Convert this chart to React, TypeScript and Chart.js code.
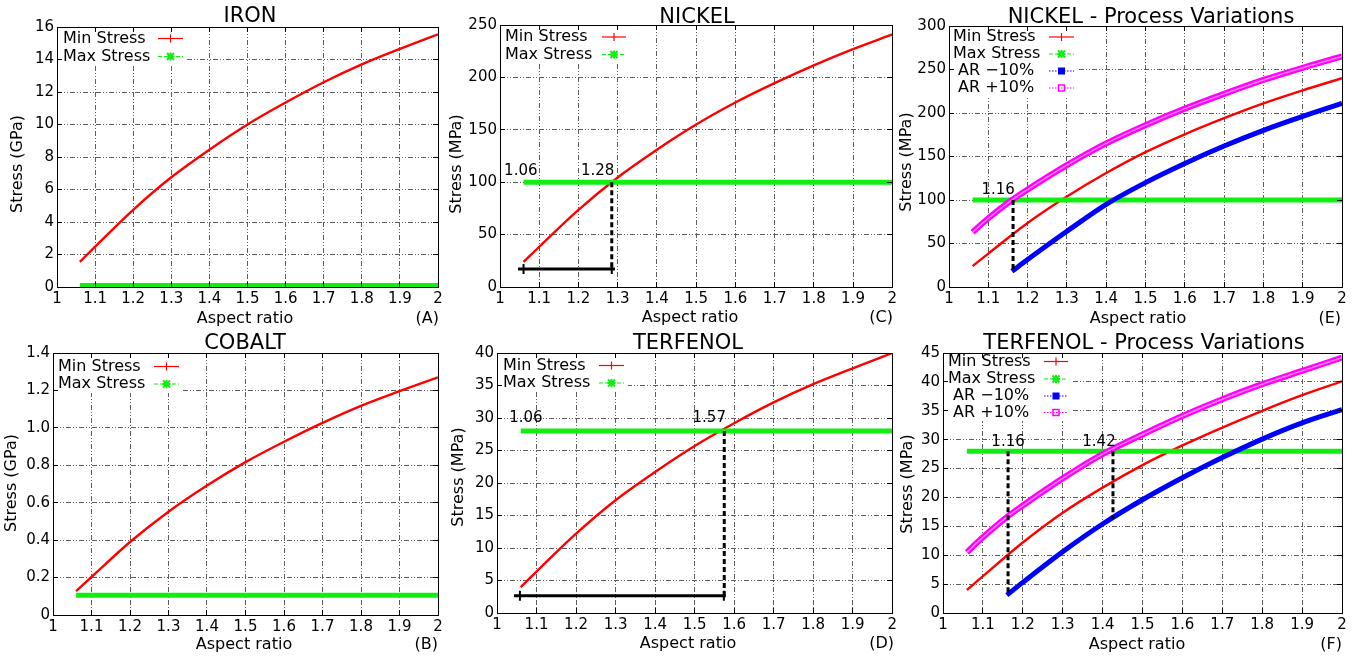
import React, { useEffect, useRef } from "react";
import { Chart, registerables } from "chart.js";

Chart.register(...registerables);
Chart.defaults.font.family = "'DejaVu Sans', sans-serif";
Chart.defaults.color = "#000";

// ---------- shared axis values ----------
const X_TICKS = [1, 1.1, 1.2, 1.3, 1.4, 1.5, 1.6, 1.7, 1.8, 1.9, 2];
const X_TICK_LABELS = ["1", "1.1", "1.2", "1.3", "1.4", "1.5", "1.6", "1.7", "1.8", "1.9", "2"];
const AR = [1.06, 1.1, 1.2, 1.3, 1.4, 1.5, 1.6, 1.7, 1.8, 1.9, 2.0];
const AR_MINUS = [1.16, 1.2, 1.3, 1.4, 1.5, 1.6, 1.7, 1.8, 1.9, 2.0];
const AR_PLUS = [1.06, 1.1, 1.16, 1.2, 1.3, 1.4, 1.5, 1.6, 1.7, 1.8, 1.9, 2.0];
const AR_ENDS = [1.06, 2.0];

const LEGEND_2 = ["Min Stress", "Max Stress"];
const LEGEND_4 = ["Min Stress", "Max Stress", " AR \u221210%", " AR +10%"];

// ---------- (A) IRON ----------
const IRON_MIN = [1.55, 2.48, 4.75, 6.75, 8.45, 10.0, 11.35, 12.6, 13.7, 14.65, 15.55];
const IRON_MAX = [0.1, 0.1];
const IRON_Y_TICKS = [0, 2, 4, 6, 8, 10, 12, 14, 16];
const IRON_Y_LABELS = ["0", "2", "4", "6", "8", "10", "12", "14", "16"];

// ---------- (B) COBALT ----------
const COBALT_MIN = [0.128, 0.203, 0.39, 0.552, 0.692, 0.817, 0.926, 1.027, 1.118, 1.196, 1.27];
const COBALT_MAX = [0.105, 0.105];
const COBALT_Y_TICKS = [0, 0.2, 0.4, 0.6, 0.8, 1.0, 1.2, 1.4];
const COBALT_Y_LABELS = ["0", "0.2", "0.4", "0.6", "0.8", "1.0", "1.2", "1.4"];

// ---------- (C) NICKEL ----------
const NICKEL_MIN = [24, 38.4, 73.6, 104.5, 131, 155, 176, 194.5, 211.5, 227, 241];
const NICKEL_MAX = [100, 100];
const NICKEL_Y_TICKS = [0, 50, 100, 150, 200, 250];
const NICKEL_Y_LABELS = ["0", "50", "100", "150", "200", "250"];
const NICKEL_DROP_X = [1.285, 1.285];
const NICKEL_DROP_Y = [100, 17.2];
const NICKEL_SPAN_X = [1.046, 1.06, 1.285, 1.293];
const NICKEL_SPAN_Y = [17.2, 17.2, 17.2, 17.2];
const NICKEL_MARK_TEXT = ["1.06", "1.28"];
const NICKEL_MARK_X = [1.053, 1.249];
const NICKEL_MARK_Y = [110.7, 110.7];

// ---------- (D) TERFENOL ----------
const TERFENOL_MIN = [3.98, 6.37, 12.2, 17.35, 21.7, 25.7, 29.2, 32.4, 35.2, 37.65, 40.0];
const TERFENOL_MAX = [28, 28];
const TERFENOL_Y_TICKS = [0, 5, 10, 15, 20, 25, 30, 35, 40];
const TERFENOL_Y_LABELS = ["0", "5", "10", "15", "20", "25", "30", "35", "40"];
const TERFENOL_DROP_X = [1.575, 1.575];
const TERFENOL_DROP_Y = [28, 2.66];
const TERFENOL_SPAN_X = [1.043, 1.058, 1.574, 1.579];
const TERFENOL_SPAN_Y = [2.66, 2.66, 2.66, 2.66];
const TERFENOL_MARK_TEXT = ["1.06", "1.57"];
const TERFENOL_MARK_X = [1.073, 1.537];
const TERFENOL_MARK_Y = [30, 30];

// ---------- (E) NICKEL - Process Variations ----------
const NICKEL_PV_MIN = [24, 38.4, 73.6, 104, 131, 155, 175.5, 194, 211, 226, 240];
const NICKEL_PV_MAX = [100, 100];
const NICKEL_PV_MINUS = [18, 31.5, 64, 95, 120, 142, 162, 180, 196, 211];
const NICKEL_PV_PLUS = [63, 79, 100, 112, 140, 165, 186, 205, 222, 238, 252, 265];
const NICKEL_PV_Y_TICKS = [0, 50, 100, 150, 200, 250, 300];
const NICKEL_PV_Y_LABELS = ["0", "50", "100", "150", "200", "250", "300"];
const NICKEL_PV_DROP_X = [1.163, 1.163];
const NICKEL_PV_DROP_Y = [100, 18];
const NICKEL_PV_MARK_TEXT = ["1.16"];
const NICKEL_PV_MARK_X = [1.125];
const NICKEL_PV_MARK_Y = [111.5];

// ---------- (F) TERFENOL - Process Variations ----------
const TERFENOL_PV_MIN = [3.98, 6.37, 12.2, 17.35, 21.7, 25.6, 29.0, 32.1, 35.0, 37.7, 40.1];
const TERFENOL_PV_MAX = [28, 28];
const TERFENOL_PV_MINUS = [3.1, 5.3, 10.6, 15.4, 19.6, 23.4, 26.9, 30.1, 32.9, 35.2];
const TERFENOL_PV_PLUS = [10.5, 13.1, 16.6, 18.6, 23.3, 27.5, 30.9, 34.1, 37.0, 39.6, 41.9, 44.2];
const TERFENOL_PV_Y_TICKS = [0, 5, 10, 15, 20, 25, 30, 35, 40, 45];
const TERFENOL_PV_Y_LABELS = ["0", "5", "10", "15", "20", "25", "30", "35", "40", "45"];
const TERFENOL_PV_DROP1_X = [1.163, 1.163];
const TERFENOL_PV_DROP1_Y = [28, 3.1];
const TERFENOL_PV_DROP2_X = [1.426, 1.426];
const TERFENOL_PV_DROP2_Y = [28, 16.3];
const TERFENOL_PV_MARK_TEXT = ["1.16", "1.42"];
const TERFENOL_PV_MARK_X = [1.163, 1.391];
const TERFENOL_PV_MARK_Y = [29.6, 29.6];

// ---------- layout (page pixel positions) ----------
type Layout = {
  canvas: number[]; area: number[]; title: number[]; yTitle: number[]; xTitle: number[];
  letter: number[]; legend: { textX: number; sx: number[]; rows: number[]; box: number[] };
};

const LAYOUT: Record<string, Layout> = {
  A: { canvas: [0, 0, 450, 328], area: [57, 27, 438, 287], title: [250, 22], yTitle: [18, 164], xTitle: [245, 323], letter: [439, 323],
    legend: { textX: 63, sx: [158, 183], rows: [38.5, 56.5], box: [187, 65] } },
  C: { canvas: [440, 0, 460, 328], area: [500, 25, 893, 287], title: [697, 22.5], yTitle: [457, 164], xTitle: [690, 321.5], letter: [893, 321.5],
    legend: { textX: 505, sx: [602, 626], rows: [37, 54.5], box: [630, 64] } },
  E: { canvas: [892, 0, 472, 328], area: [949, 26, 1342, 287], title: [1151, 22.5], yTitle: [907, 162], xTitle: [1138, 322.5], letter: [1341, 322.5],
    legend: { textX: 953, sx: [1049, 1074], rows: [37, 54, 71, 88], box: [1078, 97] } },
  B: { canvas: [0, 328, 450, 333], area: [53, 353, 438, 615], title: [245, 349], yTitle: [12, 483], xTitle: [244, 649], letter: [438, 649],
    legend: { textX: 58, sx: [154, 179], rows: [366.5, 384], box: [183, 393] } },
  D: { canvas: [440, 328, 460, 333], area: [497, 353, 894, 613], title: [688, 349], yTitle: [459, 477], xTitle: [688, 648], letter: [894, 648],
    legend: { textX: 503, sx: [599, 624], rows: [365.5, 383], box: [628, 392] } },
  F: { canvas: [892, 328, 472, 333], area: [943, 353, 1342, 613], title: [1144, 348.5], yTitle: [908, 484], xTitle: [1137, 649], letter: [1342, 649],
    legend: { textX: 948, sx: [1044, 1068], rows: [361.5, 379, 396, 412.5], box: [1072, 421] } },
};

type Kind = "min" | "max" | "minus" | "plus";
type Panel = {
  key: string; title: string; yTitle: string; letter: string;
  yMax: number; yTicks: number[]; yLabels: string[];
  series: { kind: Kind; x: number[]; y: number[] }[];
  legend: string[];
  drops: { x: number[]; y: number[] }[];
  spans: { x: number[]; y: number[] }[];
  marks: { text: string[]; x: number[]; y: number[] };
};

const PANELS: Panel[] = [
  { key: "A", title: "IRON", yTitle: "Stress (GPa)", letter: "(A)", yMax: 16, yTicks: IRON_Y_TICKS, yLabels: IRON_Y_LABELS,
    series: [{ kind: "min", x: AR, y: IRON_MIN }, { kind: "max", x: AR_ENDS, y: IRON_MAX }], legend: LEGEND_2,
    drops: [], spans: [], marks: { text: [], x: [], y: [] } },
  { key: "C", title: "NICKEL", yTitle: "Stress (MPa)", letter: "(C)", yMax: 250, yTicks: NICKEL_Y_TICKS, yLabels: NICKEL_Y_LABELS,
    series: [{ kind: "min", x: AR, y: NICKEL_MIN }, { kind: "max", x: AR_ENDS, y: NICKEL_MAX }], legend: LEGEND_2,
    drops: [{ x: NICKEL_DROP_X, y: NICKEL_DROP_Y }], spans: [{ x: NICKEL_SPAN_X, y: NICKEL_SPAN_Y }],
    marks: { text: NICKEL_MARK_TEXT, x: NICKEL_MARK_X, y: NICKEL_MARK_Y } },
  { key: "E", title: "NICKEL - Process Variations", yTitle: "Stress (MPa)", letter: "(E)", yMax: 300, yTicks: NICKEL_PV_Y_TICKS, yLabels: NICKEL_PV_Y_LABELS,
    series: [{ kind: "min", x: AR, y: NICKEL_PV_MIN }, { kind: "max", x: AR_ENDS, y: NICKEL_PV_MAX },
      { kind: "minus", x: AR_MINUS, y: NICKEL_PV_MINUS }, { kind: "plus", x: AR_PLUS, y: NICKEL_PV_PLUS }], legend: LEGEND_4,
    drops: [{ x: NICKEL_PV_DROP_X, y: NICKEL_PV_DROP_Y }], spans: [],
    marks: { text: NICKEL_PV_MARK_TEXT, x: NICKEL_PV_MARK_X, y: NICKEL_PV_MARK_Y } },
  { key: "B", title: "COBALT", yTitle: "Stress (GPa)", letter: "(B)", yMax: 1.4, yTicks: COBALT_Y_TICKS, yLabels: COBALT_Y_LABELS,
    series: [{ kind: "min", x: AR, y: COBALT_MIN }, { kind: "max", x: AR_ENDS, y: COBALT_MAX }], legend: LEGEND_2,
    drops: [], spans: [], marks: { text: [], x: [], y: [] } },
  { key: "D", title: "TERFENOL", yTitle: "Stress (MPa)", letter: "(D)", yMax: 40, yTicks: TERFENOL_Y_TICKS, yLabels: TERFENOL_Y_LABELS,
    series: [{ kind: "min", x: AR, y: TERFENOL_MIN }, { kind: "max", x: AR_ENDS, y: TERFENOL_MAX }], legend: LEGEND_2,
    drops: [{ x: TERFENOL_DROP_X, y: TERFENOL_DROP_Y }], spans: [{ x: TERFENOL_SPAN_X, y: TERFENOL_SPAN_Y }],
    marks: { text: TERFENOL_MARK_TEXT, x: TERFENOL_MARK_X, y: TERFENOL_MARK_Y } },
  { key: "F", title: "TERFENOL - Process Variations", yTitle: "Stress (MPa)", letter: "(F)", yMax: 45, yTicks: TERFENOL_PV_Y_TICKS, yLabels: TERFENOL_PV_Y_LABELS,
    series: [{ kind: "min", x: AR, y: TERFENOL_PV_MIN }, { kind: "max", x: AR_ENDS, y: TERFENOL_PV_MAX },
      { kind: "minus", x: AR_MINUS, y: TERFENOL_PV_MINUS }, { kind: "plus", x: AR_PLUS, y: TERFENOL_PV_PLUS }], legend: LEGEND_4,
    drops: [{ x: TERFENOL_PV_DROP1_X, y: TERFENOL_PV_DROP1_Y }, { x: TERFENOL_PV_DROP2_X, y: TERFENOL_PV_DROP2_Y }], spans: [],
    marks: { text: TERFENOL_PV_MARK_TEXT, x: TERFENOL_PV_MARK_X, y: TERFENOL_PV_MARK_Y } },
];

const KINDS: Kind[] = ["min", "max", "minus", "plus"];
const COLORS: Record<Kind, string> = { min: "#ff0000", max: "#11ee11", minus: "#0000ff", plus: "#ff00ff" };

const pts = (xs: number[], ys: number[]) => xs.map((x, i) => ({ x, y: ys[i] }));
const align = (v: number) => Math.round(v - 0.5) + 0.5;

function buildDatasets(p: Panel) {
  const ds: any[] = [];
  for (const s of p.series) {
    const base = { data: pts(s.x, s.y), showLine: true, pointRadius: 0, fill: false, cubicInterpolationMode: "monotone" as const };
    if (s.kind === "min") ds.push({ ...base, borderColor: COLORS.min, borderWidth: 2.4, order: 4 });
    if (s.kind === "max") ds.push({ ...base, borderColor: COLORS.max, borderWidth: 5, order: 3 });
    if (s.kind === "minus") ds.push({ ...base, borderColor: COLORS.minus, borderWidth: 5, order: 2 });
    if (s.kind === "plus") {
      ds.push({ ...base, borderColor: COLORS.plus, borderWidth: 6, order: 1.5 });
      ds.push({ ...base, borderColor: "#ff80ff", borderWidth: 1.5, order: 1 });
    }
  }
  for (const d of p.drops) {
    ds.push({ data: pts(d.x, d.y), showLine: true, pointRadius: 0, borderColor: "#000", borderWidth: 3, borderDash: [5, 3], order: 0 });
  }
  for (const s of p.spans) {
    ds.push({ data: pts(s.x, s.y), showLine: true, borderColor: "#000", borderWidth: 3, order: 0,
      pointStyle: "line", rotation: 90, pointRadius: s.x.map((_, i) => (i === 0 || i === s.x.length - 1 ? 0 : 5)),
      pointBorderColor: "#000", pointBorderWidth: 2 });
  }
  return ds;
}

function drawSample(ctx: CanvasRenderingContext2D, kind: Kind, x1: number, x2: number, y: number) {
  const mid = (x1 + x2) / 2;
  ctx.save();
  ctx.strokeStyle = COLORS[kind];
  ctx.fillStyle = COLORS[kind];
  ctx.lineWidth = 1.2;
  ctx.setLineDash(kind === "min" ? [] : kind === "max" ? [4, 2] : [1.5, 1.5]);
  ctx.beginPath(); ctx.moveTo(x1, y); ctx.lineTo(x2, y); ctx.stroke();
  ctx.setLineDash([]);
  if (kind === "min") {
    ctx.beginPath(); ctx.moveTo(mid, y - 4); ctx.lineTo(mid, y + 4); ctx.stroke();
  } else if (kind === "max") {
    ctx.lineWidth = 2;
    ctx.beginPath();
    ctx.moveTo(mid - 3.5, y - 3.5); ctx.lineTo(mid + 3.5, y + 3.5);
    ctx.moveTo(mid - 3.5, y + 3.5); ctx.lineTo(mid + 3.5, y - 3.5);
    ctx.moveTo(mid - 4, y); ctx.lineTo(mid + 4, y);
    ctx.moveTo(mid, y - 4); ctx.lineTo(mid, y + 4);
    ctx.stroke();
  } else if (kind === "minus") {
    ctx.fillRect(mid - 3.5, y - 3.5, 7, 7);
  } else {
    ctx.lineWidth = 1.5;
    ctx.strokeRect(mid - 3, y - 3, 6, 6);
  }
  ctx.restore();
}

function makeDeco(p: Panel) {
  const L = LAYOUT[p.key];
  const [cx, cy] = L.canvas;
  return {
    id: "deco" + p.key,
    beforeDatasetsDraw(chart: any) {
      const { ctx, chartArea: a } = chart;
      ctx.save();
      ctx.fillStyle = "#fff";
      ctx.fillRect(a.left + 1, a.top + 1, L.legend.box[0] - cx - a.left - 1, L.legend.box[1] - cy - a.top - 1);
      ctx.restore();
    },
    afterDraw(chart: any) {
      const { ctx, chartArea: a, scales } = chart;
      ctx.save();
      // inner tick marks + frame
      ctx.strokeStyle = "#000";
      ctx.lineWidth = 1;
      ctx.setLineDash([]);
      ctx.beginPath();
      for (const v of X_TICKS) {
        const px = align(scales.x.getPixelForValue(v));
        ctx.moveTo(px, a.bottom); ctx.lineTo(px, a.bottom - 5);
        ctx.moveTo(px, a.top); ctx.lineTo(px, a.top + 5);
      }
      for (const v of p.yTicks) {
        const py = align(scales.y.getPixelForValue(v));
        ctx.moveTo(a.left, py); ctx.lineTo(a.left + 5, py);
        ctx.moveTo(a.right, py); ctx.lineTo(a.right - 5, py);
      }
      ctx.stroke();
      ctx.strokeRect(align(a.left), align(a.top), Math.round(a.right - a.left), Math.round(a.bottom - a.top));

      ctx.fillStyle = "#000";
      // title
      ctx.font = "21px 'DejaVu Sans'";
      ctx.textAlign = "center";
      ctx.textBaseline = "alphabetic";
      ctx.fillText(p.title, L.title[0] - cx, L.title[1] - cy);
      // x title & letter
      ctx.font = "16px 'DejaVu Sans'";
      ctx.fillText("Aspect ratio", L.xTitle[0] - cx, L.xTitle[1] - cy);
      ctx.textAlign = "right";
      ctx.fillText(p.letter, L.letter[0] - cx, L.letter[1] - cy);
      // y title
      ctx.save();
      ctx.translate(L.yTitle[0] - cx, L.yTitle[1] - cy);
      ctx.rotate(-Math.PI / 2);
      ctx.textAlign = "center";
      ctx.textBaseline = "middle";
      ctx.fillText(p.yTitle, 0, 0);
      ctx.restore();
      // legend
      ctx.textAlign = "left";
      ctx.textBaseline = "middle";
      p.legend.forEach((label, i) => {
        const y = L.legend.rows[i] - cy;
        ctx.fillStyle = "#000";
        ctx.fillText(label, L.legend.textX - cx, y);
        drawSample(ctx, KINDS[i], L.legend.sx[0] - cx, L.legend.sx[1] - cx, y);
      });
      // value marks
      ctx.fillStyle = "#000";
      ctx.font = "15px 'DejaVu Sans'";
      ctx.textAlign = "center";
      ctx.textBaseline = "middle";
      p.marks.text.forEach((t, i) => {
        ctx.fillText(t, scales.x.getPixelForValue(p.marks.x[i]), scales.y.getPixelForValue(p.marks.y[i]));
      });
      ctx.restore();
    },
  };
}

function buildConfig(p: Panel): any {
  const L = LAYOUT[p.key];
  const [cx, cy, cw, ch] = L.canvas;
  const [l, t, r, b] = L.area;
  const gridDash = [5, 2, 1, 2, 1, 2];
  return {
    type: "scatter",
    data: { datasets: buildDatasets(p) },
    plugins: [makeDeco(p)],
    options: {
      responsive: false,
      animation: false,
      devicePixelRatio: 1,
      events: [],
      layout: { padding: { left: 0, top: t - cy, right: cx + cw - r, bottom: 0 } },
      plugins: { legend: { display: false }, tooltip: { enabled: false }, title: { display: false } },
      scales: {
        x: {
          type: "linear", position: "bottom", min: 1, max: 2,
          afterBuildTicks: (s: any) => { s.ticks = X_TICKS.map((v) => ({ value: v })); },
          afterFit: (s: any) => { s.height = cy + ch - b; },
          ticks: { autoSkip: false, maxRotation: 0, minRotation: 0, padding: 3, font: { size: 15 }, color: "#000",
            callback: (_v: any, i: number) => X_TICK_LABELS[i] },
          grid: { color: "#5e5e5e", lineWidth: 1, drawTicks: false },
          border: { display: false, dash: gridDash },
        },
        y: {
          type: "linear", position: "left", min: 0, max: p.yMax,
          afterBuildTicks: (s: any) => { s.ticks = p.yTicks.map((v) => ({ value: v })); },
          afterFit: (s: any) => { s.width = l - cx; },
          ticks: { autoSkip: false, padding: 3, font: { size: 15 }, color: "#000",
            callback: (_v: any, i: number) => p.yLabels[i] },
          grid: { color: "#5e5e5e", lineWidth: 1, drawTicks: false },
          border: { display: false, dash: gridDash },
        },
      },
    },
  };
}

export default function App() {
  const refs = useRef<(HTMLCanvasElement | null)[]>([]);
  useEffect(() => {
    const charts = PANELS.map((p, i) => new Chart(refs.current[i] as HTMLCanvasElement, buildConfig(p)));
    return () => charts.forEach((c) => c.destroy());
  }, []);
  return (
    <div style={{ position: "absolute", left: 0, top: 0, width: 1364, height: 661, background: "#fff" }}>
      {PANELS.map((p, i) => {
        const [cx, cy, cw, ch] = LAYOUT[p.key].canvas;
        return (
          <canvas
            key={p.key}
            ref={(el) => { refs.current[i] = el; }}
            width={cw}
            height={ch}
            style={{ position: "absolute", left: cx, top: cy, width: cw, height: ch }}
          />
        );
      })}
    </div>
  );
}
